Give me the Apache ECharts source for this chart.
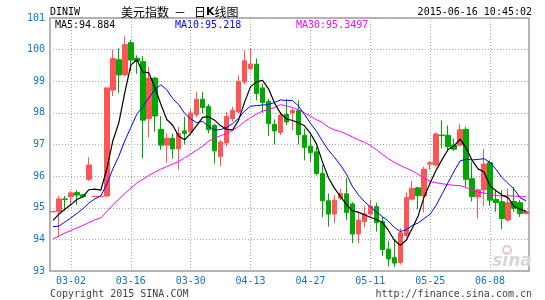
<!DOCTYPE html>
<html>
<head>
<meta charset="utf-8">
<script src="https://cdn.jsdelivr.net/npm/echarts@6/dist/echarts.min.js"></script>
<style>
html, body { margin: 0; padding: 0; background: #fff; }
#main { width: 545px; height: 300px; }
</style>
</head>
<body>
<div id="main"></div>
<script>
// trading days, 2015-02-25 .. 2015-06-16
var dates = [
    '02-25', '02-26', '02-27', '03-02', '03-03', '03-04', '03-05', '03-06', '03-09', '03-10',
    '03-11', '03-12', '03-13', '03-16', '03-17', '03-18', '03-19', '03-20', '03-23', '03-24',
    '03-25', '03-26', '03-27', '03-30', '03-31', '04-01', '04-02', '04-03', '04-06', '04-07',
    '04-08', '04-09', '04-10', '04-13', '04-14', '04-15', '04-16', '04-17', '04-20', '04-21',
    '04-22', '04-23', '04-24', '04-27', '04-28', '04-29', '04-30', '05-01', '05-04', '05-05',
    '05-06', '05-07', '05-08', '05-11', '05-12', '05-13', '05-14', '05-15', '05-18', '05-19',
    '05-20', '05-21', '05-22', '05-25', '05-26', '05-27', '05-28', '05-29', '06-01', '06-02',
    '06-03', '06-04', '06-05', '06-08', '06-09', '06-10', '06-11', '06-12', '06-15', '06-16'
];
var tickDates = ['03-02', '03-16', '03-30', '04-13', '04-27', '05-11', '05-25', '06-08'];

var open = [
    94.87, 94.88, 95.28, 95.35, 95.48, 95.41, 95.90, 95.35, 95.35, 95.37,
    98.72, 99.68, 99.20, 100.22, 99.73, 99.62, 97.82, 99.10, 97.48, 96.98,
    97.20, 96.86, 97.43, 97.40, 97.95, 98.43, 98.20, 97.60, 96.62, 97.05,
    97.82, 98.03, 98.98, 99.40, 99.54, 98.79, 98.37, 97.64, 97.38, 97.95,
    98.00, 98.07, 97.29, 96.95, 96.77, 96.08, 95.22, 94.80, 95.30, 95.44,
    95.12, 94.17, 94.56, 94.80, 95.04, 94.57, 93.69, 93.42, 93.27, 94.12,
    95.27, 95.63, 95.37, 96.38, 96.35, 97.30, 97.29, 96.98, 96.98, 97.48,
    95.92, 95.34, 95.57, 96.43, 95.26, 95.19, 94.61, 95.20, 95.16, 94.82
];
var close = [
    94.88, 95.28, 95.26, 95.47, 95.40, 95.35, 96.35, 95.36, 95.36, 98.79,
    99.72, 99.20, 100.16, 99.67, 99.63, 97.77, 99.10, 97.90, 96.98, 97.20,
    96.86, 97.35, 97.35, 98.00, 98.43, 98.17, 97.47, 96.80, 97.08, 97.89,
    98.08, 99.00, 99.65, 99.54, 98.61, 98.33, 97.66, 97.43, 97.93, 97.71,
    98.08, 97.31, 96.91, 96.74, 96.08, 95.22, 94.80, 95.24, 95.45, 94.85,
    94.17, 94.61, 94.81, 95.05, 94.53, 93.68, 93.38, 93.25, 94.21, 95.32,
    95.61, 95.38, 96.22, 96.42, 97.33, 97.28, 96.93, 96.85, 97.47, 95.90,
    95.35, 95.57, 96.38, 95.24, 95.16, 94.66, 95.16, 94.98, 94.82, 94.88
];
var high = [
    94.88, 95.37, 95.37, 95.54, 95.55, 95.44, 96.60, 95.36, 95.36, 98.80,
    100.00, 100.04, 100.42, 100.30, 99.82, 99.80, 99.47, 99.14, 97.90, 97.35,
    97.34, 97.55, 97.88, 98.12, 98.67, 98.66, 98.28, 97.65, 97.14, 98.03,
    98.19, 99.19, 99.98, 100.03, 99.72, 98.93, 98.45, 97.79, 98.03, 98.45,
    98.14, 98.40, 97.50, 97.29, 96.93, 96.35, 95.45, 95.40, 95.60, 95.95,
    95.18, 94.86, 95.05, 95.25, 95.16, 94.71, 93.95, 94.00, 94.35, 95.48,
    95.85, 95.66, 96.30, 96.48, 97.38, 97.77, 97.60, 97.19, 97.66, 97.56,
    96.45, 95.60, 96.87, 96.50, 95.57, 95.55, 95.60, 95.66, 95.24, 94.90
];
var low = [
    94.87, 94.07, 94.90, 95.07, 95.10, 95.33, 95.85, 95.35, 95.35, 95.35,
    98.53, 98.63, 99.16, 99.32, 99.24, 96.56, 97.22, 97.40, 96.83, 96.42,
    96.55, 96.20, 97.00, 97.30, 97.86, 97.98, 97.36, 96.40, 96.32, 96.93,
    97.72, 97.98, 98.90, 99.35, 98.40, 98.00, 97.27, 97.00, 97.30, 97.61,
    97.45, 97.00, 96.50, 96.45, 96.03, 94.70, 94.40, 94.53, 95.25, 94.60,
    93.88, 93.88, 94.38, 94.72, 94.24, 93.48, 93.14, 93.12, 93.20, 94.07,
    95.25, 94.95, 94.85, 96.20, 96.30, 96.88, 96.82, 96.80, 96.93, 95.66,
    95.20, 94.66, 95.05, 95.05, 94.87, 94.32, 94.56, 94.87, 94.71, 94.80
];

var ma5 = [
    94.60, 94.80, 94.95, 95.10, 95.26, 95.35, 95.57, 95.59, 95.56, 96.24,
    97.12, 97.69, 98.65, 99.51, 99.68, 99.29, 99.27, 98.81, 98.28, 97.79,
    97.61, 97.26, 97.15, 97.35, 97.60, 97.86, 97.88, 97.77, 97.59, 97.48,
    97.46, 97.77, 98.34, 98.83, 98.98, 99.03, 98.76, 98.31, 97.99, 97.81,
    97.76, 97.69, 97.59, 97.35, 97.02, 96.45, 95.95, 95.62, 95.36, 95.11,
    94.90, 94.86, 94.78, 94.70, 94.63, 94.54, 94.29, 93.98, 93.81, 93.97,
    94.35, 94.75, 95.35, 95.79, 96.19, 96.53, 96.84, 96.96, 97.17, 96.89,
    96.50, 96.23, 96.13, 95.69, 95.54, 95.40, 95.32, 95.04, 94.96, 94.884
];
var ma10 = [
    94.40, 94.42, 94.55, 94.68, 94.82, 94.97, 95.15, 95.28, 95.38, 95.75,
    96.23, 96.63, 97.12, 97.54, 97.96, 98.20, 98.48, 98.73, 98.89, 98.73,
    98.45, 98.26, 97.98, 97.81, 97.69, 97.73, 97.57, 97.46, 97.47, 97.54,
    97.66, 97.83, 98.06, 98.21, 98.23, 98.25, 98.26, 98.33, 98.41, 98.39,
    98.39, 98.22, 97.95, 97.67, 97.42, 97.11, 96.82, 96.60, 96.35, 96.07,
    95.68, 95.41, 95.20, 95.03, 94.87, 94.72, 94.58, 94.38, 94.25, 94.30,
    94.44, 94.52, 94.66, 94.80, 95.08, 95.44, 95.80, 96.16, 96.48, 96.54,
    96.51, 96.53, 96.55, 96.43, 96.21, 95.95, 95.77, 95.59, 95.32, 95.218
];
var ma30 = [
    94.02, 94.10, 94.20, 94.28, 94.36, 94.44, 94.53, 94.62, 94.68, 94.88,
    95.08, 95.27, 95.45, 95.62, 95.78, 95.90, 96.02, 96.12, 96.22, 96.30,
    96.38, 96.46, 96.58, 96.70, 96.82, 96.95, 97.10, 97.20, 97.28, 97.34,
    97.45, 97.57, 97.72, 97.85, 97.96, 98.06, 98.10, 98.17, 98.26, 98.22,
    98.17, 98.10, 98.00, 97.90, 97.78, 97.70, 97.55, 97.46, 97.41, 97.33,
    97.24, 97.15, 97.07, 96.97, 96.84, 96.69, 96.55, 96.44, 96.34, 96.25,
    96.17, 96.05, 95.94, 95.83, 95.79, 95.76, 95.73, 95.71, 95.70, 95.64,
    95.55, 95.49, 95.47, 95.42, 95.39, 95.37, 95.38, 95.37, 95.35, 95.3497
];
var maLabels = ['MA5:94.884', 'MA10:95.218', 'MA30:95.3497'];

var MONO = '"DejaVu Sans Mono", monospace';
var CJK = '"Noto Sans CJK SC", sans-serif';
var BLUE = '#0a78c8';
var RED = '#ff5555';
var GREEN = '#00a800';

// echarts candlestick wants [open, close, lowest, highest]
var kdata = [];
for (var i = 0; i < dates.length; i++) {
    kdata.push([open[i], close[i], low[i], high[i]]);
}

function isTick(idx, val) {
    return tickDates.indexOf(val) >= 0;
}

function txt(x, y, text, font, fill, align) {
    return {
        type: 'text', x: x, y: y, silent: true,
        style: {
            text: text, font: font, fill: fill,
            align: align || 'left', verticalAlign: 'middle',
            textAlign: align || 'left', textVerticalAlign: 'middle'
        }
    };
}

var chart = echarts.init(document.getElementById('main'));

chart.setOption({
    animation: false,
    backgroundColor: '#fff',
    grid: {
        left: 50, right: 16, top: 18, bottom: 29,
        show: true, borderColor: '#9c9c9c', borderWidth: 1.5
    },
    xAxis: {
        type: 'category',
        data: dates,
        boundaryGap: true,
        axisLine: { show: false },
        axisTick: { show: false },
        axisLabel: {
            interval: isTick,
            color: BLUE, fontFamily: MONO, fontSize: 10, margin: 5
        },
        splitLine: {
            show: true,
            interval: isTick,
            alignWithLabel: true,
            lineStyle: { color: '#aaa', width: 1, type: [1, 2] }
        }
    },
    yAxis: {
        type: 'value',
        min: 93, max: 101, interval: 1,
        axisLine: { show: false },
        axisTick: { show: false },
        axisLabel: { color: BLUE, fontFamily: MONO, fontSize: 10, margin: 5 },
        splitLine: { lineStyle: { color: '#aaa', width: 1, type: [1, 2] } }
    },
    series: [
        {
            type: 'candlestick',
            data: kdata,
            barWidth: 5,
            itemStyle: {
                color: RED, color0: GREEN,
                borderColor: RED, borderColor0: GREEN,
                borderWidth: 1
            }
        },
        { type: 'line', data: ma30, symbol: 'none', lineStyle: { color: '#ff00ff', width: 1 } },
        { type: 'line', data: ma10, symbol: 'none', lineStyle: { color: '#0000ff', width: 1 } },
        { type: 'line', data: ma5, symbol: 'none', lineStyle: { color: '#000000', width: 1.2 } }
    ],
    graphic: [
        txt(50, 12, 'DINIW', '10px ' + MONO, '#000'),
        txt(121, 12, '美元指数', '12px ' + CJK, '#000'),
        txt(180, 12, '－', '12px ' + CJK, '#000', 'center'),
        {
            type: 'text', x: 194, y: 12, silent: true,
            style: {
                text: '日{b|K}线图', font: '12px ' + CJK, fill: '#000',
                verticalAlign: 'middle', textVerticalAlign: 'middle',
                rich: { b: { font: 'bold 11px "DejaVu Sans", sans-serif', fill: '#000' } }
            }
        },
        txt(532, 12, '2015-06-16 10:45:02', '10px ' + MONO, '#000', 'right'),
        txt(55, 25, maLabels[0], '10px ' + MONO, '#000'),
        txt(175, 25, maLabels[1], '10px ' + MONO, '#0000ff'),
        txt(296, 25, maLabels[2], '10px ' + MONO, '#ff00ff'),
        txt(50, 294, 'Copyright 2015 SINA.COM', '10px ' + MONO, '#444'),
        txt(532, 294, 'http://finance.sina.com.cn', '10px ' + MONO, '#444', 'right'),
        // faint sina watermark
        {
            type: 'circle', silent: true, shape: { cx: 507, cy: 250, r: 4 },
            style: { fill: 'none', stroke: '#f3c6c6', lineWidth: 2 }
        },
        txt(512, 262, 'sina', 'italic bold 17px "DejaVu Sans", sans-serif', '#d6d6d6', 'center')
    ]
});

window.onresize = function () {
    chart.resize();
};
</script>
</body>
</html>
